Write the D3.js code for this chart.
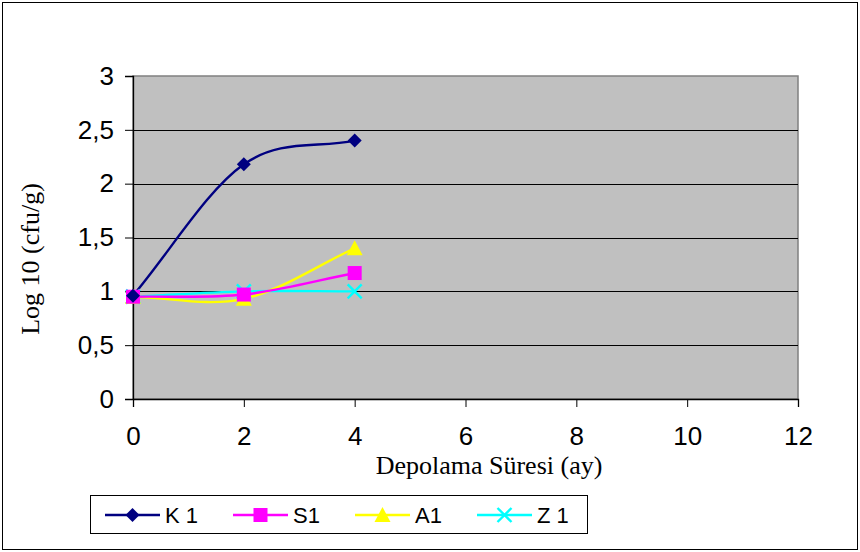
<!DOCTYPE html>
<html>
<head>
<meta charset="utf-8">
<script src="https://cdn.jsdelivr.net/npm/d3@7"></script>
<style>
  html, body { margin: 0; padding: 0; background: #fff; }
  svg { display: block; }
</style>
</head>
<body>
<script>
// Storage time (months) and log10 counts for each sample
const months = [0, 2, 4];
const seriesNames = ["K 1", "S1", "A1", "Z 1"];
const k1 = [0.96, 2.18, 2.40];
const s1 = [0.95, 0.97, 1.17];
const a1 = [0.95, 0.93, 1.40];
const z1 = [0.95, 1.00, 1.00];
const colors = ["#000080", "#FF00FF", "#FFFF00", "#00FFFF"];
const symbols = ["diamond", "square", "triangle", "x"];
const xTicks = [0, 2, 4, 6, 8, 10, 12];
const yTicks = [0, 0.5, 1, 1.5, 2, 2.5, 3];
const xTitle = "Depolama Süresi (ay)";
const yTitle = "Log 10 (cfu/g)";

const W = 860, H = 552;
const sans = "Liberation Sans, Arial, sans-serif";
const serif = "Liberation Serif, Times New Roman, serif";
const svg = d3.select("body").append("svg").attr("width", W).attr("height", H);

// chart frame
svg.append("rect").attr("x", 2.5).attr("y", 2.5).attr("width", W - 5).attr("height", H - 5)
  .attr("fill", "#fff").attr("stroke", "#000").attr("stroke-width", 1);

const plot = { left: 133, right: 798, top: 76, bottom: 399 };
const x = d3.scaleLinear().domain([0, 12]).range([plot.left, plot.right]);
const y = d3.scaleLinear().domain([0, 3]).range([plot.bottom, plot.top]);

// plot area background
svg.append("rect").attr("x", plot.left).attr("y", plot.top)
  .attr("width", plot.right - plot.left).attr("height", plot.bottom - plot.top)
  .attr("fill", "#C0C0C0").attr("stroke", "#808080").attr("stroke-width", 1.5);

// horizontal gridlines
svg.append("g").selectAll("line").data(yTicks.filter(v => v > 0 && v < 3)).join("line")
  .attr("x1", plot.left).attr("x2", plot.right)
  .attr("y1", d => Math.round(y(d)) + 0.5).attr("y2", d => Math.round(y(d)) + 0.5)
  .attr("stroke", "#000").attr("stroke-width", 1);

const fmt = d => String(d).replace(".", ",");

// y axis
const yAxis = svg.append("g").attr("transform", `translate(${plot.left},0)`)
  .call(d3.axisLeft(y).tickValues(yTicks).tickFormat(fmt).tickSize(8).tickPadding(11));
yAxis.select(".domain").attr("stroke", "#000").attr("stroke-width", 1.3);
yAxis.selectAll("text").attr("font-family", sans).attr("font-size", 26).attr("fill", "#000");

// x axis
const xAxis = svg.append("g").attr("transform", `translate(0,${plot.bottom})`)
  .call(d3.axisBottom(x).tickValues(xTicks).tickFormat(d => d).tickSize(8).tickPadding(20));
xAxis.select(".domain").attr("stroke", "#000").attr("stroke-width", 1.3);
xAxis.selectAll("text").attr("font-family", sans).attr("font-size", 26).attr("fill", "#000");

// axis titles
svg.append("text").attr("x", 489).attr("y", 474)
  .attr("text-anchor", "middle").attr("font-family", serif)
  .attr("font-size", 26).text(xTitle);
svg.append("text").attr("transform", `translate(39,259) rotate(-90)`)
  .attr("text-anchor", "middle").attr("font-family", serif)
  .attr("font-size", 26).text(yTitle);

function drawMarker(g, kind, color, cx, cy) {
  if (kind === "diamond") {
    g.append("path").attr("d", `M${cx},${cy - 7}L${cx + 7},${cy}L${cx},${cy + 7}L${cx - 7},${cy}Z`)
      .attr("fill", color);
  } else if (kind === "square") {
    g.append("rect").attr("x", cx - 7).attr("y", cy - 7).attr("width", 14).attr("height", 14)
      .attr("fill", color);
  } else if (kind === "triangle") {
    g.append("path").attr("d", `M${cx},${cy - 8}L${cx + 8},${cy + 7}L${cx - 8},${cy + 7}Z`)
      .attr("fill", color);
  } else {
    g.append("path").attr("d", `M${cx - 7},${cy - 7}L${cx + 7},${cy + 7}M${cx + 7},${cy - 7}L${cx - 7},${cy + 7}`)
      .attr("stroke", color).attr("stroke-width", 2.4).attr("fill", "none");
  }
}

// smoothed line through the points: Catmull-Rom tangents, reflected end points
function smoothPath(values) {
  const p = values.map((v, i) => [x(months[i]), y(v)]);
  const n = p.length;
  const at = i => {
    if (i < 0) return [2 * p[0][0] - p[1][0], 2 * p[0][1] - p[1][1]];
    if (i >= n) return [2 * p[n - 1][0] - p[n - 2][0], 2 * p[n - 1][1] - p[n - 2][1]];
    return p[i];
  };
  const path = d3.path();
  path.moveTo(p[0][0], p[0][1]);
  for (let i = 0; i < n - 1; i++) {
    const a = at(i - 1), b = at(i), c = at(i + 1), d = at(i + 2);
    path.bezierCurveTo(
      b[0] + (c[0] - a[0]) / 6, b[1] + (c[1] - a[1]) / 6,
      c[0] - (d[0] - b[0]) / 6, c[1] - (d[1] - b[1]) / 6,
      c[0], c[1]);
  }
  return path.toString();
}

const allSeries = [k1, s1, a1, z1];

// series, drawn so the first ends on top
const seriesG = svg.append("g");
[3, 2, 1, 0].forEach(si => {
  seriesG.append("path").attr("d", smoothPath(allSeries[si]))
    .attr("fill", "none").attr("stroke", colors[si]).attr("stroke-width", 2.4);
});
[3, 2, 1, 0].forEach(si => {
  allSeries[si].forEach((v, i) => drawMarker(seriesG, symbols[si], colors[si], x(months[i]), y(v)));
});

// legend
const lg = svg.append("g");
lg.append("rect").attr("x", 90.5).attr("y", 495.5).attr("width", 497).attr("height", 38)
  .attr("fill", "#fff").attr("stroke", "#000").attr("stroke-width", 1);
const legX = [105, 233, 355, 477];
seriesNames.forEach((name, i) => {
  const lx = legX[i], ly = 515;
  lg.append("line").attr("x1", lx).attr("x2", lx + 55).attr("y1", ly).attr("y2", ly)
    .attr("stroke", colors[i]).attr("stroke-width", 2.4);
  drawMarker(lg, symbols[i], colors[i], lx + 27.5, ly);
  lg.append("text").attr("x", lx + 60).attr("y", ly + 8)
    .attr("font-family", sans).attr("font-size", 22).text(name);
});
</script>
</body>
</html>
